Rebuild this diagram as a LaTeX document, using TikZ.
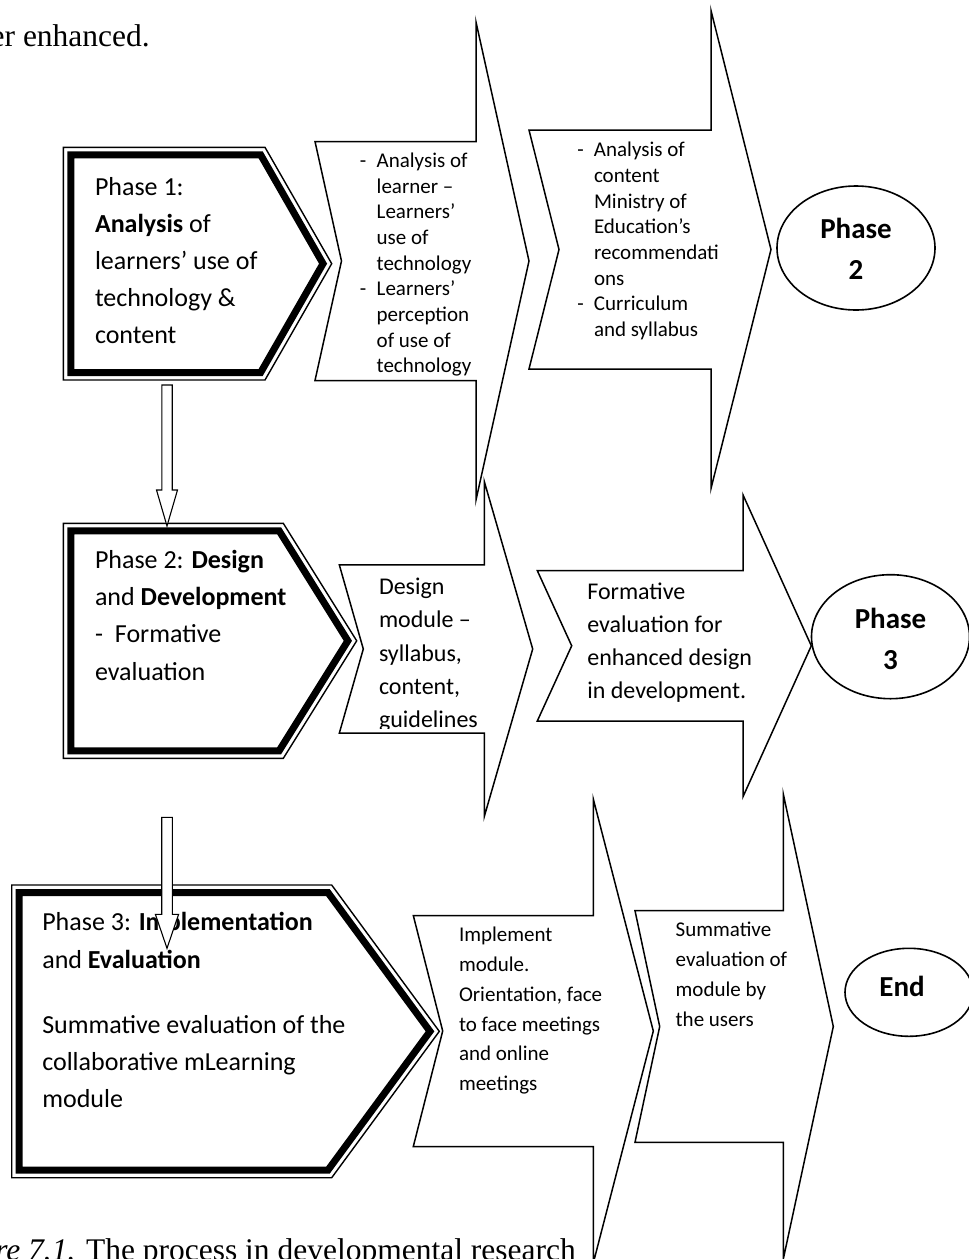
\documentclass[tikz,border=0pt]{standalone}
\usepackage{fontspec}
\setmainfont{Carlito}
\newfontfamily\bodyserif{Liberation Serif}
\usetikzlibrary{shapes.geometric}

% left-aligned and centred stacks of lines; the box baseline is the first line's
\newcommand\linesblock[1]{\vtop{\halign{##\hfil\cr#1\crcr}}}
\newcommand\centreblock[1]{\vtop{\halign{\hfil##\hfil\cr#1\crcr}}}
\newcommand\dashitem{\llap{-\hspace{10.3pt}}}

% distance of the heavy inner border from the thin outer border
\def\phbInset{7.5}

% pentagon phase box: name, left, top, bottom, x of top-right corner, x of tip
\newcommand\phasebox[6]{%
  \pgfmathsetmacro\phbDy{(#4-#3)/2}%
  \pgfmathsetmacro\phbDx{#6-#5}%
  \pgfmathsetmacro\phbMid{(#3+#4)/2}%
  \pgfmathsetmacro\phbLen{100*sqrt((\phbDx/100)^2+(\phbDy/100)^2)}%
  \pgfmathsetmacro\phbShift{\phbInset*\phbLen/\phbDy}%
  \pgfmathsetmacro\phbCorner{#5+\phbDx*\phbInset/\phbDy-\phbShift}%
  \pgfmathsetmacro\phbTip{#6-\phbShift}%
  \path[outerline] (#2,#3) -- (#5,#3) -- (#6,\phbMid) -- (#5,#4) -- (#2,#4) -- cycle;
  \path[thickline] ({#2+\phbInset},{#3+\phbInset}) -- (\phbCorner,{#3+\phbInset})
     -- (\phbTip,\phbMid) -- (\phbCorner,{#4-\phbInset})
     -- ({#2+\phbInset},{#4-\phbInset}) -- cycle;
  \coordinate (#1) at (#2,\phbMid);
}

% notched block arrow: name, left, notch x, neck x, tip x, centre y, half shaft, half head
\newcommand\notched[8]{%
  \path[blockarrow] (#2,{#6-#7}) -- (#4,{#6-#7}) -- (#4,{#6-#8}) -- (#5,#6)
     -- (#4,{#6+#8}) -- (#4,{#6+#7}) -- (#2,{#6+#7}) -- (#3,#6) -- cycle;
  \coordinate (#1) at (#3,#6);
}

% downward block arrow: centre x, top y, neck y, tip y, half shaft, half head
\newcommand\downblock[6]{%
  \path[downarrow] ({#1-#5},#2) -- ({#1+#5},#2) -- ({#1+#5},#3) -- ({#1+#6},#3)
     -- (#1,#4) -- ({#1-#6},#3) -- ({#1-#5},#3) -- cycle;
}

\begin{document}
\begin{tikzpicture}[x=1pt,y=-1pt,
  outerline/.style={draw=black,line width=1.4pt,fill=white,line join=miter},
  thickline/.style={draw=black,line width=7pt,line join=miter},
  blockarrow/.style={draw=black,line width=1.5pt,fill=white,line join=miter},
  downarrow/.style={draw=black,line width=1.1pt,fill=white,line join=miter},
  phaseoval/.style={ellipse,draw=black,line width=1.6pt,inner sep=0pt},
  bodytext/.style={anchor=base west,inner sep=0pt,outer sep=0pt},
  ovaltext/.style={anchor=base,inner sep=0pt,font=\fontsize{29}{41}\selectfont\bfseries},
  serifline/.style={anchor=base east,inner sep=0pt,font=\bodyserif\fontsize{31.5}{38}\selectfont}]
\useasboundingbox (0,0) rectangle (969,1259);
\clip (0,0) rectangle (969,1259);
\fill[white] (0,0) rectangle (969,1259);

% running text above and caption below
\node[serifline] (toptext) at (150,46.7) {er enhanced.};
\node[serifline] (caption) at (576,1260) {\textit{re 7.1.} The process in developmental research};

% phase boxes
\phasebox{p1}{63.3}{147.3}{380}{265}{331.7}
\phasebox{p2}{63.3}{523.3}{758.3}{283.3}{356.7}
\phasebox{p3}{11.7}{885}{1177.7}{331.7}{439.3}

% notched arrows, row by row
\notched{a1}{315}{341.5}{476}{529}{261}{119.5}{239}
\notched{a2}{529}{559}{711}{771}{249.5}{119.5}{239}
\notched{b1}{339.3}{363.3}{484.3}{532.7}{649}{84.2}{167.5}
\notched{b2}{537.3}{571.7}{743}{811.3}{645.8}{75.2}{150.9}
\notched{c1}{413.3}{442.7}{593.3}{653.3}{1031}{115.5}{232}
\notched{c2}{635}{659.7}{783.3}{833.3}{1026.5}{115.8}{232.5}

% end-of-row ovals
\node[phaseoval,minimum width=158pt,minimum height=124pt] (ov2) at (856,248) {};
\node[phaseoval,minimum width=158pt,minimum height=124pt] (ov3) at (890.5,636.7) {};
\node[phaseoval,minimum width=128pt,minimum height=88pt] (ovend) at (909,992.3) {};
\node[ovaltext] (ov2t) at (856,238.3) {\centreblock{Phase\cr 2}};
\node[ovaltext] (ov3t) at (890.5,628.3) {\centreblock{Phase\cr 3}};
\node[ovaltext] (ovendt) at (902,996) {End};

% phase box texts
\node[bodytext,font=\fontsize{26}{37}\selectfont] (t1) at (95,195)
  {\linesblock{Phase 1:\cr \textbf{Analysis} of\cr learners’ use of\cr technology \&\cr content}};
\node[bodytext,font=\fontsize{26}{37.3}\selectfont] (t2) at (95,568.3)
  {\linesblock{Phase 2: \textbf{Design}\cr and \textbf{Development}\cr -\hspace{12pt}Formative\cr evaluation}};
\node[bodytext,font=\fontsize{26}{37.3}\selectfont] (t3) at (42.3,930.7)
  {\linesblock{Phase 3: \textbf{Implementation}\cr and \textbf{Evaluation}\cr\noalign{\vskip 28pt}
   Summative evaluation of the\cr collaborative mLearning\cr module}};

% arrow texts, first row
\begin{scope}
  \clip (315,141) rectangle (476,375);
  \node[bodytext,font=\fontsize{21}{25.7}\selectfont] (ta1) at (376.7,167.3)
    {\linesblock{\dashitem Analysis of\cr learner –\cr Learners’\cr use of\cr technology\cr
     \dashitem Learners’\cr perception\cr of use of\cr technology}};
\end{scope}
\node[bodytext,font=\fontsize{21}{25.7}\selectfont] (ta2) at (594,156.7)
  {\linesblock{\dashitem Analysis of\cr content\cr Ministry of\cr Education’s\cr recommendati\cr ons\cr
   \dashitem Curriculum\cr and syllabus}};

% arrow texts, second row
\begin{scope}
  \clip (339.3,564.8) rectangle (484.3,728.5);
  \node[bodytext,font=\fontsize{24}{33.35}\selectfont] (tb1) at (379,594.3)
    {\linesblock{Design\cr module –\cr syllabus,\cr content,\cr guidelines}};
\end{scope}
\node[bodytext,font=\fontsize{24}{33.2}\selectfont] (tb2) at (587.3,599)
  {\linesblock{Formative\cr evaluation for\cr enhanced design\cr in development.}};

% arrow texts, third row
\node[bodytext,font=\fontsize{21}{29.8}\selectfont] (tc1) at (459,941.7)
  {\linesblock{Implement\cr module.\cr Orientation, face\cr to face meetings\cr and online\cr meetings}};
\node[bodytext,font=\fontsize{21}{30}\selectfont] (tc2) at (675.7,936.7)
  {\linesblock{Summative\cr evaluation of\cr module by\cr the users}};

% downward arrows between the phase boxes
\downblock{167}{385}{490}{526}{5.2}{10.5}
\downblock{167}{817.3}{914.3}{948.3}{5.3}{11.6}
\end{tikzpicture}
\end{document}
